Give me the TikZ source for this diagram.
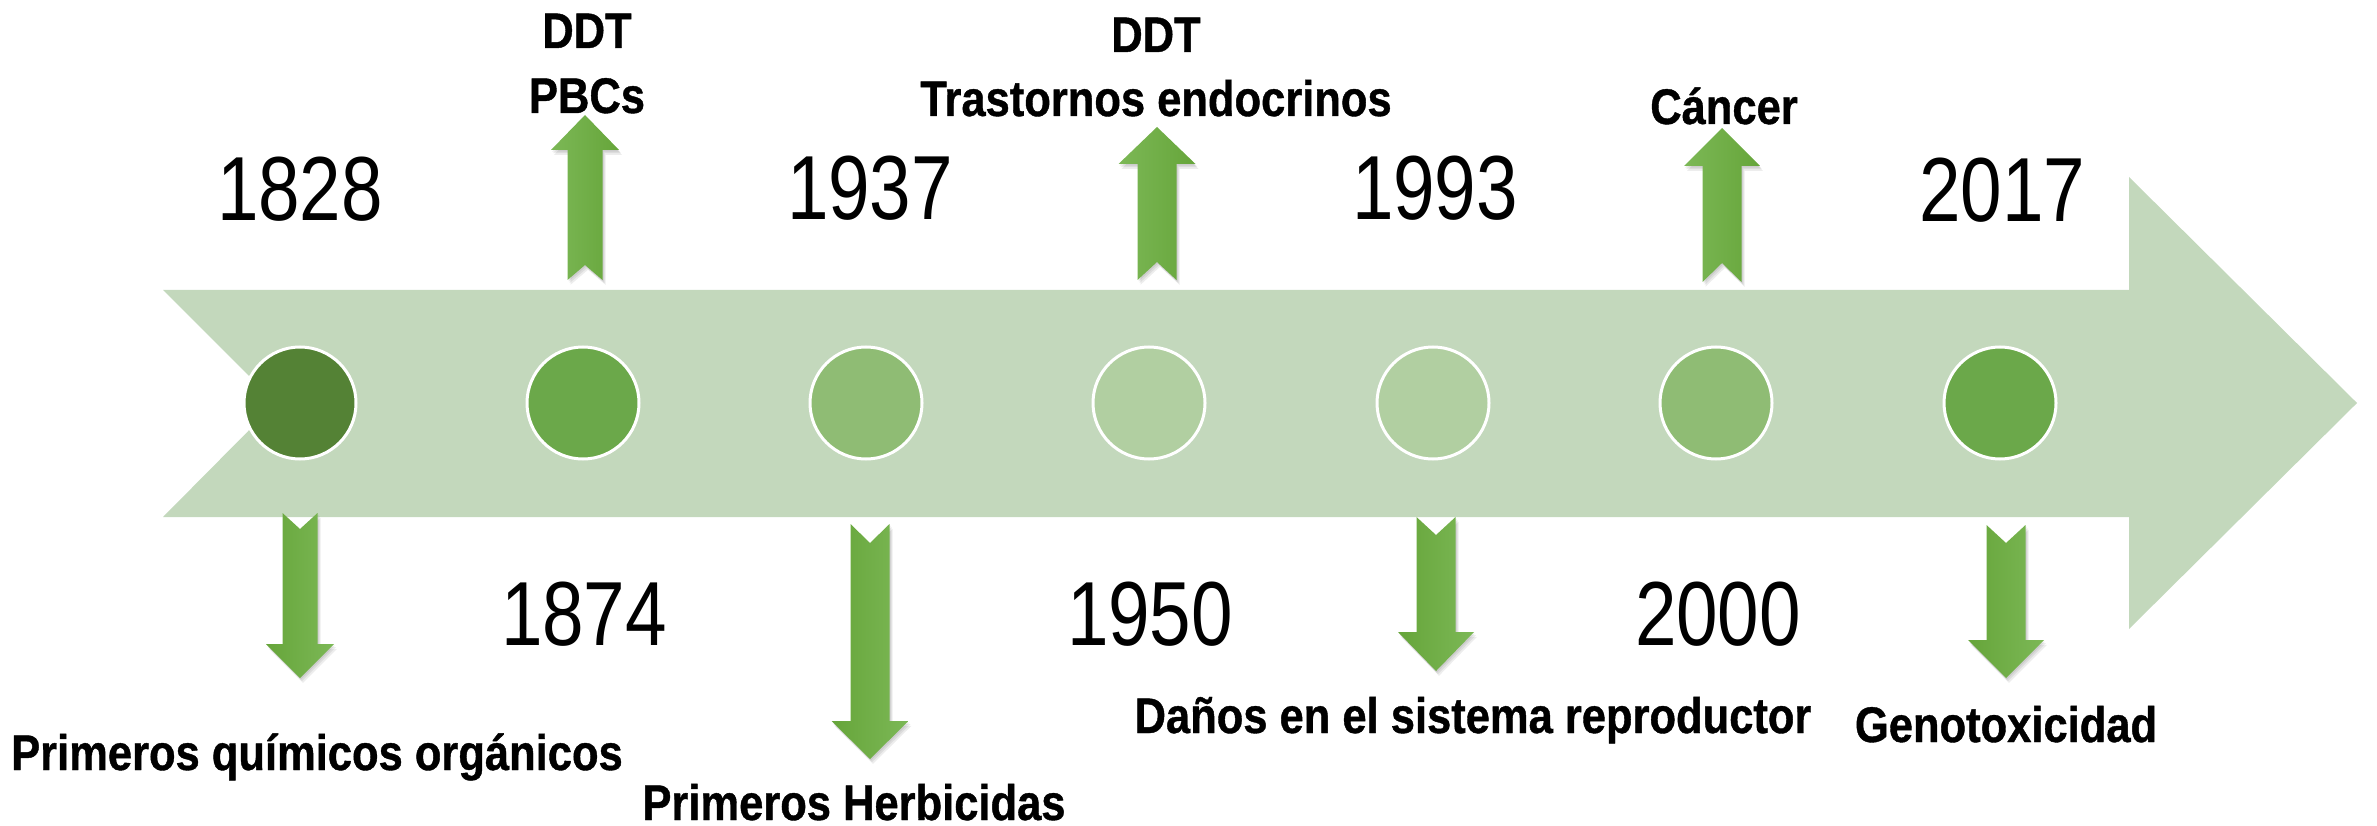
\documentclass[tikz,border=0pt]{standalone}
\usepackage{fontspec}
\newfontfamily\yearfont[FakeStretch=0.82]{Liberation Sans}
\newfontfamily\labfont[FakeStretch=0.87,FakeBold=0.8]{Liberation Sans Bold}
\definecolor{bandc}{HTML}{C3D8BC}
\definecolor{dotA}{HTML}{548235}
\definecolor{dotB}{HTML}{6BA84A}
\definecolor{dotC}{HTML}{8FBC74}
\definecolor{dotD}{HTML}{B1CFA1}
\definecolor{arrdark}{HTML}{66A53A}
\definecolor{arrlight}{HTML}{7CB856}
\tikzset{
  year/.style={font={\yearfont\fontsize{91}{100}\selectfont}, anchor=base, inner sep=0pt},
  lab/.style={font={\labfont\fontsize{50}{60}\selectfont}, anchor=base, inner sep=0pt},
  dot/.style={circle, minimum size=112pt, inner sep=0pt, draw=white, line width=3pt},
  arrshadow/.style={fill=black, opacity=0.07},
  uparr/.style={left color=arrlight, right color=arrdark},
  downarr/.style={left color=arrdark, right color=arrlight},
}
% up arrow: x, tip, headbase, bottom, notch, half shaft, half head
\newcommand\uppath[7]{(#1,#2) -- (#1+#7,#3) -- (#1+#6,#3) -- (#1+#6,#4) -- (#1,#5) -- (#1-#6,#4) -- (#1-#6,#3) -- (#1-#7,#3) -- cycle}
% down arrow: x, top, notch, headbase, tip, half shaft, half head
\newcommand\downpath[7]{(#1-#6,#2) -- (#1,#3) -- (#1+#6,#2) -- (#1+#6,#4) -- (#1+#7,#4) -- (#1,#5) -- (#1-#7,#4) -- (#1-#6,#4) -- cycle}
\newcommand\UpArr[7]{%
  \foreach \s in {1,2,3}{\fill[arrshadow,shift={(\s,1.6*\s)}] \uppath{#1}{#2}{#3}{#4}{#5}{#6}{#7};}
  \shade[uparr] \uppath{#1}{#2}{#3}{#4}{#5}{#6}{#7};}
\newcommand\DownArr[7]{%
  \foreach \s in {1,2,3}{\fill[arrshadow,shift={(\s,1.6*\s)}] \downpath{#1}{#2}{#3}{#4}{#5}{#6}{#7};}
  \shade[downarr] \downpath{#1}{#2}{#3}{#4}{#5}{#6}{#7};}
\begin{document}
\begin{tikzpicture}[x=1pt,y=-1pt]
\useasboundingbox (0,0) rectangle (2377,826);
% main band arrow
\fill[bandc] (163,290) -- (2129,290) -- (2129,177) -- (2357,403) -- (2129,629) -- (2129,517) -- (163,517) -- (276,403) -- cycle;
% circles
\node[dot, fill=dotA] (d1) at (300,403) {};
\node[dot, fill=dotB] (d2) at (583,403) {};
\node[dot, fill=dotC] (d3) at (866,403) {};
\node[dot, fill=dotD] (d4) at (1149,403) {};
\node[dot, fill=dotD] (d5) at (1433,403) {};
\node[dot, fill=dotC] (d6) at (1716,403) {};
\node[dot, fill=dotB] (d7) at (2000,403) {};
% small arrows
\UpArr{585}{115}{150}{280}{265}{17.5}{34}
\UpArr{1157}{127}{164}{280}{262}{19.5}{38.5}
\UpArr{1722}{128}{166}{282}{263}{19.5}{38}
\DownArr{300}{513}{529}{644}{678}{17.5}{34}
\DownArr{870}{524}{543}{721}{759}{19.5}{38.5}
\DownArr{1436}{517}{535}{632}{671}{19.5}{38}
\DownArr{2006}{525}{543}{640}{678}{19.5}{38}
% years
\node[year] (y1828) at (300,221) {1828};
\node[year] (y1937) at (870,220) {1937};
\node[year] (y1993) at (1435,220) {1993};
\node[year] (y2017) at (2002,222) {2017};
\node[year] (y1874) at (584,645) {1874};
\node[year] (y1950) at (1150,645) {1950};
\node[year] (y2000) at (1718,645) {2000};
% labels
\node[lab] (ddtA) at (587,48) {DDT};
\node[lab] (pbcs) at (587,113) {PBCs};
\node[lab] (ddtB) at (1156,52) {DDT};
\node[lab] (tras) at (1156,116) {Trastornos endocrinos};
\node[lab] (canc) at (1724,124) {Cáncer};
\node[lab] (prim) at (317,770) {Primeros químicos orgánicos};
\node[lab] (herb) at (854,820) {Primeros Herbicidas};
\node[lab] (danos) at (1473,733) {Daños en el sistema reproductor};
\node[lab] (geno) at (2006,742) {Genotoxicidad};
\end{tikzpicture}
\end{document}
